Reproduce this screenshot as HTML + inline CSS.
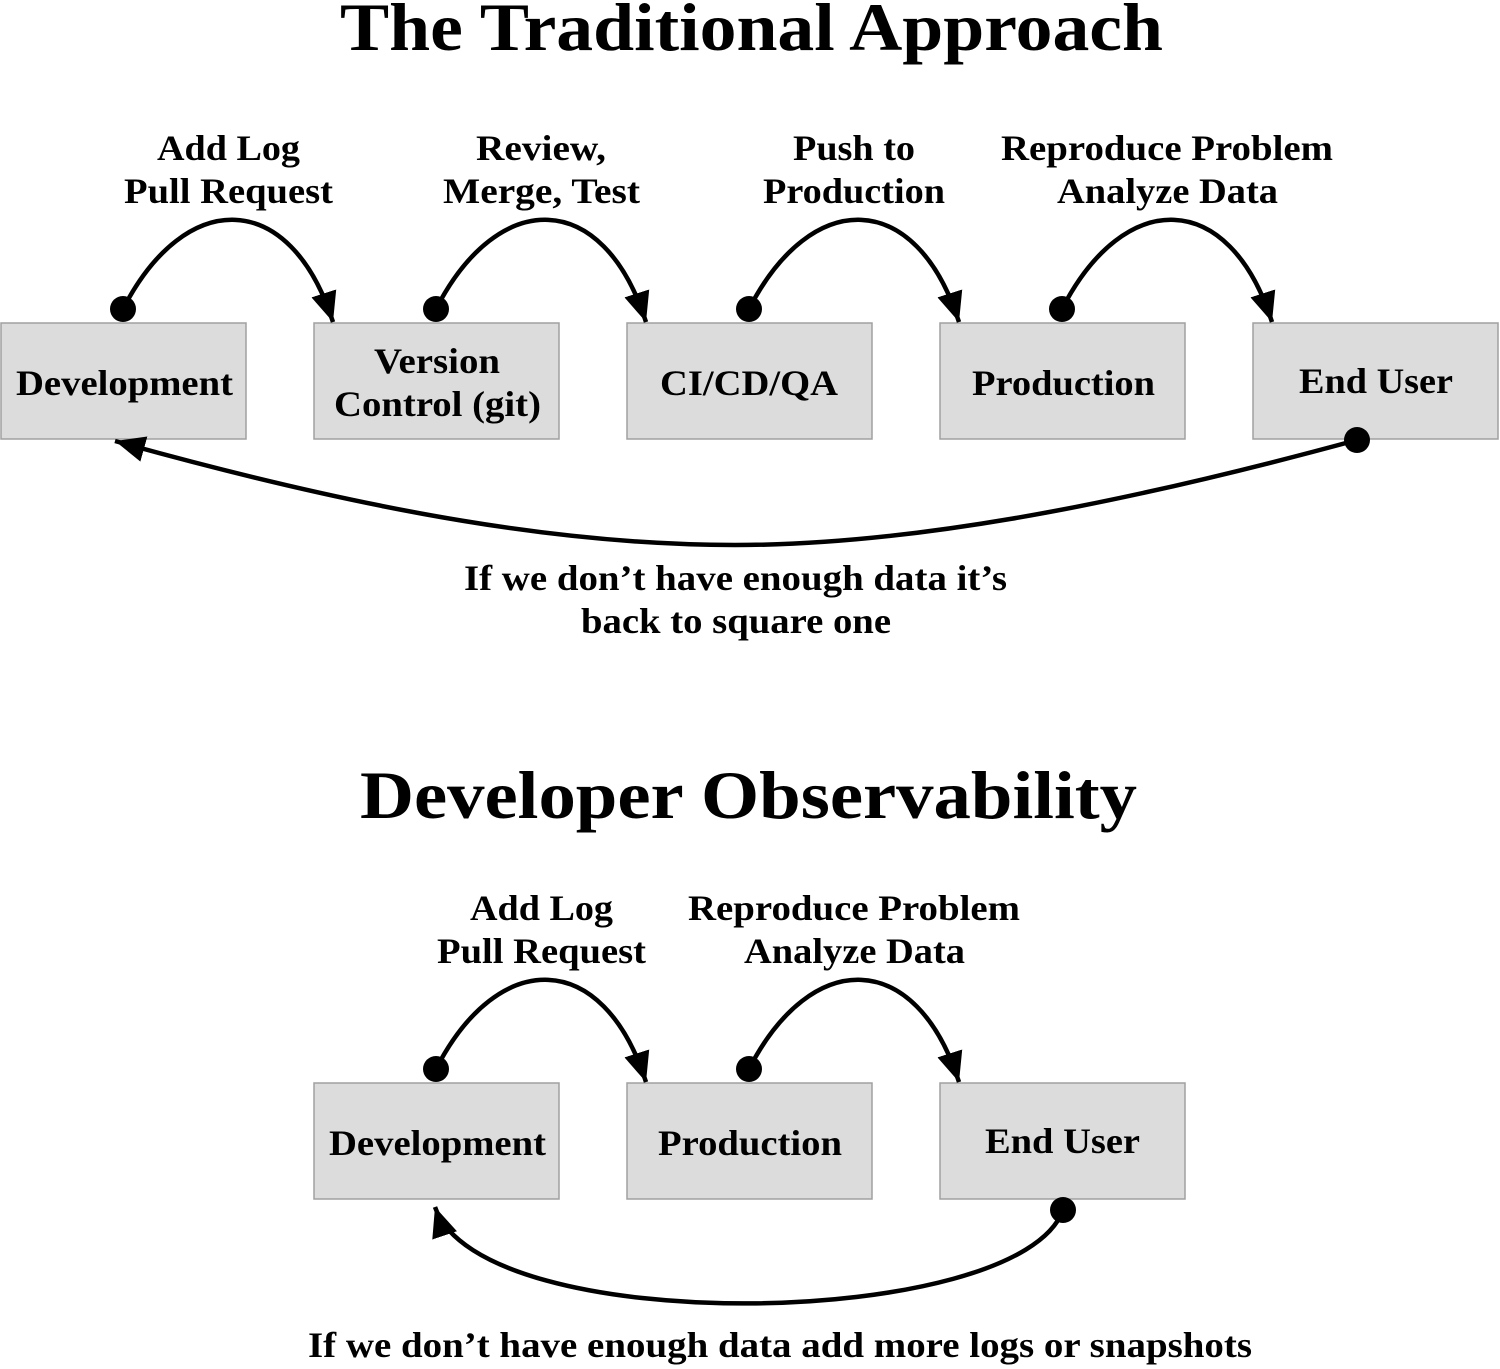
<!DOCTYPE html>
<html><head><meta charset="utf-8"><style>
html,body{margin:0;padding:0;background:#fff}
svg{display:block}
text{font-family:"Liberation Serif",serif;font-weight:bold;fill:#000}
</style></head><body>
<svg width="1500" height="1369" viewBox="0 0 1500 1369" xmlns="http://www.w3.org/2000/svg">
<defs>
<marker id="ah" markerUnits="userSpaceOnUse" markerWidth="32" markerHeight="28" refX="30" refY="13" orient="auto">
<path d="M0,0 L30,13 L0,26 z" fill="#000"/>
</marker>
</defs>
<g fill="#dcdcdc" stroke="#a0a0a0" stroke-width="1.5">
<rect x="1" y="323" width="245" height="116"/>
<rect x="314" y="323" width="245" height="116"/>
<rect x="627" y="323" width="245" height="116"/>
<rect x="940" y="323" width="245" height="116"/>
<rect x="1253" y="323" width="245" height="116"/>
<rect x="314" y="1083" width="245" height="116"/>
<rect x="627" y="1083" width="245" height="116"/>
<rect x="940" y="1083" width="245" height="116"/>
</g>
<g fill="none" stroke="#000" stroke-width="4.5" marker-end="url(#ah)">
<path d="M123,309 C185,188 290,188 333,322"/>
<path d="M436,309 C498,188 603,188 646,322"/>
<path d="M749,309 C811,188 916,188 959,322"/>
<path d="M1062,309 C1124,188 1229,188 1272,322"/>
<path d="M436,1069 C498,948 603,948 646,1082"/>
<path d="M749,1069 C811,948 916,948 959,1082"/>
<path d="M1357,440 C1100,510 900,545 735,545 C570,545 380,515 115,441"/>
<path d="M1063,1210 C1020,1330 480,1340 435,1207"/>
</g>
<g fill="#000">
<circle cx="123" cy="309" r="13"/><circle cx="436" cy="309" r="13"/>
<circle cx="749" cy="309" r="13"/><circle cx="1062" cy="309" r="13"/>
<circle cx="1357" cy="440" r="13"/>
<circle cx="436" cy="1069" r="13"/><circle cx="749" cy="1069" r="13"/>
<circle cx="1063" cy="1210" r="13"/>
</g>
<text x="340" y="50" font-size="68" textLength="823" lengthAdjust="spacingAndGlyphs">The Traditional Approach</text>
<text x="360" y="818" font-size="68" textLength="777" lengthAdjust="spacingAndGlyphs">Developer Observability</text>
<g font-size="36">
<text x="157" y="160" textLength="143" lengthAdjust="spacingAndGlyphs">Add Log</text>
<text x="124" y="203" textLength="209" lengthAdjust="spacingAndGlyphs">Pull Request</text>
<text x="476" y="160" textLength="130" lengthAdjust="spacingAndGlyphs">Review,</text>
<text x="443" y="203" textLength="197" lengthAdjust="spacingAndGlyphs">Merge, Test</text>
<text x="793" y="160" textLength="122" lengthAdjust="spacingAndGlyphs">Push to</text>
<text x="763" y="203" textLength="182" lengthAdjust="spacingAndGlyphs">Production</text>
<text x="1001" y="160" textLength="332" lengthAdjust="spacingAndGlyphs">Reproduce Problem</text>
<text x="1057" y="203" textLength="221" lengthAdjust="spacingAndGlyphs">Analyze Data</text>
<text x="16" y="395" textLength="217" lengthAdjust="spacingAndGlyphs">Development</text>
<text x="374" y="373" textLength="126" lengthAdjust="spacingAndGlyphs">Version</text>
<text x="334" y="416" textLength="207" lengthAdjust="spacingAndGlyphs">Control (git)</text>
<text x="660" y="395" textLength="178" lengthAdjust="spacingAndGlyphs">CI/CD/QA</text>
<text x="972" y="395" textLength="183" lengthAdjust="spacingAndGlyphs">Production</text>
<text x="1299" y="393" textLength="154" lengthAdjust="spacingAndGlyphs">End User</text>
<text x="464" y="590" textLength="543" lengthAdjust="spacingAndGlyphs">If we don’t have enough data it’s</text>
<text x="581" y="633" textLength="310" lengthAdjust="spacingAndGlyphs">back to square one</text>
<text x="470" y="920" textLength="143" lengthAdjust="spacingAndGlyphs">Add Log</text>
<text x="437" y="963" textLength="209" lengthAdjust="spacingAndGlyphs">Pull Request</text>
<text x="688" y="920" textLength="332" lengthAdjust="spacingAndGlyphs">Reproduce Problem</text>
<text x="744" y="963" textLength="221" lengthAdjust="spacingAndGlyphs">Analyze Data</text>
<text x="329" y="1155" textLength="217" lengthAdjust="spacingAndGlyphs">Development</text>
<text x="658" y="1155" textLength="184" lengthAdjust="spacingAndGlyphs">Production</text>
<text x="985" y="1153" textLength="155" lengthAdjust="spacingAndGlyphs">End User</text>
<text x="308" y="1357" textLength="944" lengthAdjust="spacingAndGlyphs">If we don’t have enough data add more logs or snapshots</text>
</g>
</svg>
</body></html>
